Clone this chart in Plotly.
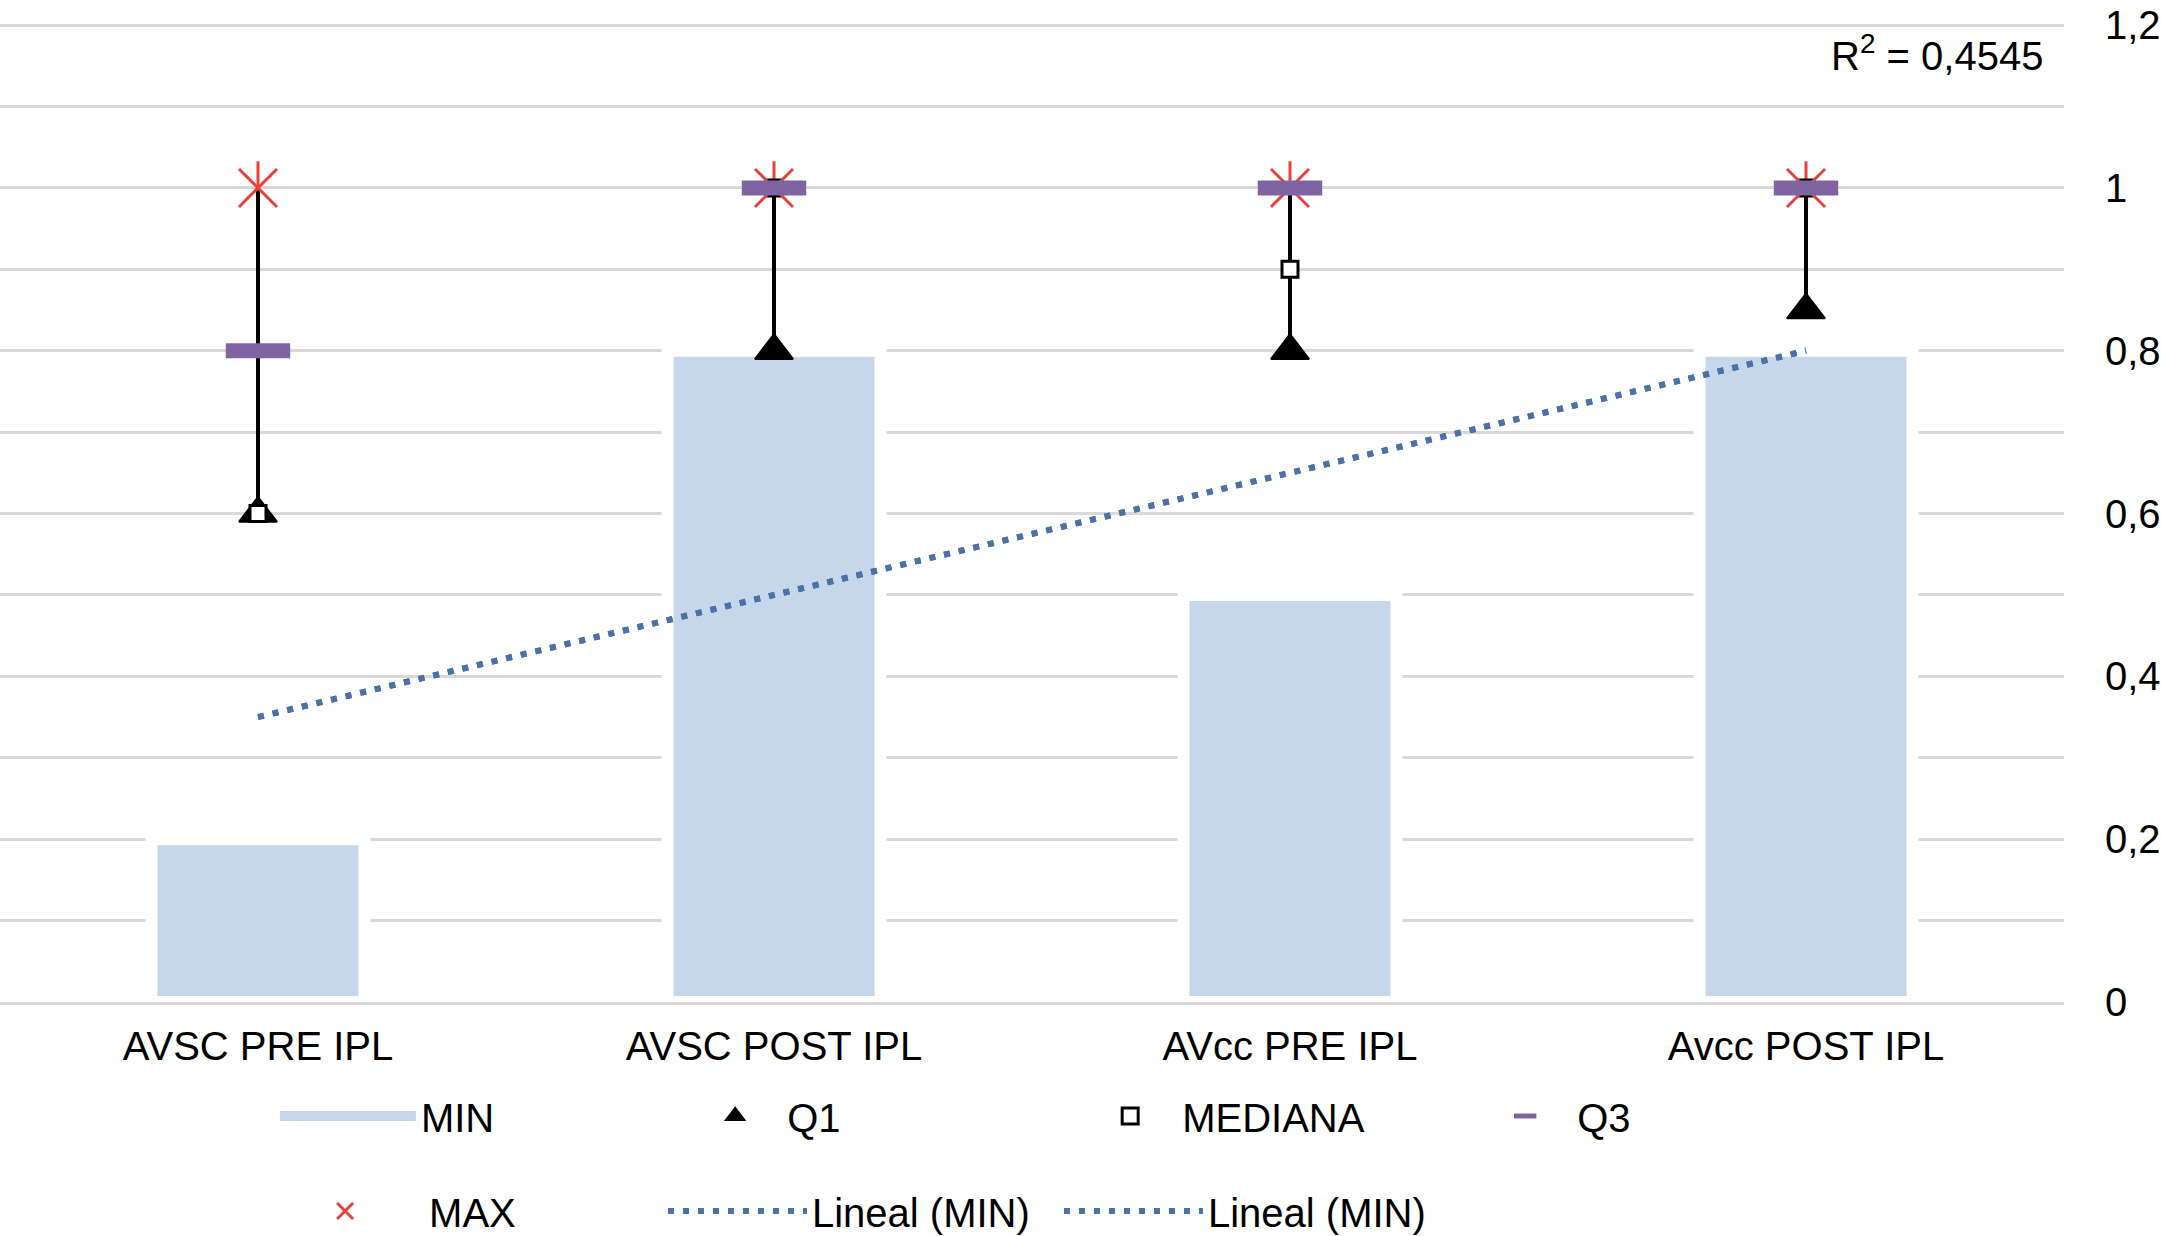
import numpy as np
import plotly.graph_objects as go

categories = ["AVSC PRE IPL", "AVSC POST IPL", "AVcc PRE IPL", "Avcc POST IPL"]
MIN = [0.2, 0.8, 0.5, 0.8]
Q1 = [0.6, 0.8, 0.8, 0.85]
MEDIANA = [0.6, 1.0, 0.9, 1.0]
Q3 = [0.8, 1.0, 1.0, 1.0]
MAX = [1.0, 1.0, 1.0, 1.0]
y_ticks = [0, 0.2, 0.4, 0.6, 0.8, 1.0, 1.2]

# linear trendline of MIN (Excel "Lineal (MIN)")
xi = np.arange(1, len(MIN) + 1)
slope, intercept = np.polyfit(xi, MIN, 1)
trend = slope * xi + intercept
ss_res = np.sum((np.array(MIN) - trend) ** 2)
ss_tot = np.sum((np.array(MIN) - np.mean(MIN)) ** 2)
r2 = 1 - ss_res / ss_tot
r2_text = "R<sup>2</sup> = " + f"{r2:.4f}".replace(".", ",")

# high-low lines
stack = np.array([Q1, MEDIANA, Q3, MAX])
low = stack.min(axis=0)
high = stack.max(axis=0)
hl_x, hl_y = [], []
for c, lo, hi in zip(categories, low, high):
    hl_x += [c, c, None]
    hl_y += [lo, hi, None]

FONT = "Liberation Sans, Arial, sans-serif"
GRID = "#d9d9d9"
BAR = "#c6d7ec"
TREND = "#4a72a6"
PURPLE = "#8064a2"
RED = "#e8403a"

fig = go.Figure()
fig.add_trace(go.Bar(x=categories, y=MIN, name="MIN", showlegend=False,
                     marker=dict(color=BAR, line=dict(color="white", width=12))))
# legend swatch for MIN (wide rectangle like the reference)
fig.add_trace(go.Scatter(x=[None], y=[None], mode="lines", name="MIN", legend="legend",
                         line=dict(color=BAR, width=27)))
fig.add_trace(go.Scatter(x=categories, y=MAX, mode="markers", showlegend=False,
                         marker=dict(symbol="line-ns-open", size=38, color=RED,
                                     line=dict(width=3))))
fig.add_trace(go.Scatter(x=hl_x, y=hl_y, mode="lines", showlegend=False,
                         line=dict(color="black", width=4)))
for k in range(2):
    fig.add_trace(go.Scatter(x=categories, y=trend, mode="lines", name="Lineal (MIN)",
                             legend="legend3",
                             line=dict(color=TREND, width=6, dash="6px,9px")))
fig.add_trace(go.Scatter(x=categories, y=Q1, mode="markers", name="Q1", legend="legend4",
                         marker=dict(symbol="triangle-up", size=33, color="black",
                                     line=dict(color="black", width=2))))
fig.add_trace(go.Scatter(x=categories, y=MEDIANA, mode="markers", name="MEDIANA",
                         legend="legend4",
                         marker=dict(symbol="square", size=16, color="white",
                                     line=dict(color="black", width=3))))
fig.add_trace(go.Scatter(x=categories, y=MAX, mode="markers", name="MAX", legend="legend2",
                         marker=dict(symbol="x-thin-open", size=38, color=RED,
                                     line=dict(width=3))))
fig.add_trace(go.Scatter(x=categories, y=Q3, mode="markers", name="Q3", legend="legend4",
                         marker=dict(symbol="line-ew-open", size=46, color=PURPLE,
                                     line=dict(width=15))))

fig.add_annotation(text=r2_text, xref="paper", yref="paper", x=0.991, y=0.963,
                   xanchor="right", yanchor="middle", showarrow=False,
                   font=dict(size=40, family=FONT, color="black"))

leg_common = dict(orientation="h", yanchor="middle", xanchor="left",
                  bgcolor="rgba(0,0,0,0)", font=dict(size=40, family=FONT, color="black"),
                  traceorder="normal")
fig.update_layout(
    width=2161, height=1236,
    margin=dict(l=0, r=97, t=17, b=234, autoexpand=False),
    paper_bgcolor="white", plot_bgcolor="white",
    separators=",.",
    font=dict(family=FONT, size=40, color="black"),
    bargap=0.587,
    legend=dict(x=0.1332, y=-0.1157, itemwidth=136, **leg_common),
    legend4=dict(x=0.331, y=-0.1157, itemwidth=94, entrywidth=286, **leg_common),
    legend2=dict(x=0.1265, y=-0.2122, itemwidth=158, **leg_common),
    legend3=dict(x=0.3212, y=-0.2122, itemwidth=139, entrywidth=242, **leg_common),
    xaxis=dict(type="category", showgrid=False, showline=True, linecolor=GRID,
               linewidth=3, ticks="", layer="above traces", ticklabelstandoff=7,
               tickfont=dict(size=40, family=FONT, color="black")),
    yaxis=dict(side="right", range=[0, 1.21], tick0=0, dtick=0.2, showgrid=True,
               gridcolor=GRID, gridwidth=3, zeroline=False, showline=False, ticks="",
               ticklabelstandoff=40,
               tickfont=dict(size=40, family=FONT, color="black"),
               minor=dict(tick0=0, dtick=0.1, showgrid=True, gridcolor=GRID, gridwidth=3)),
)

fig.write_html("out.html", config={"displayModeBar": False},
               post_script="document.body.style.margin='0px';")
